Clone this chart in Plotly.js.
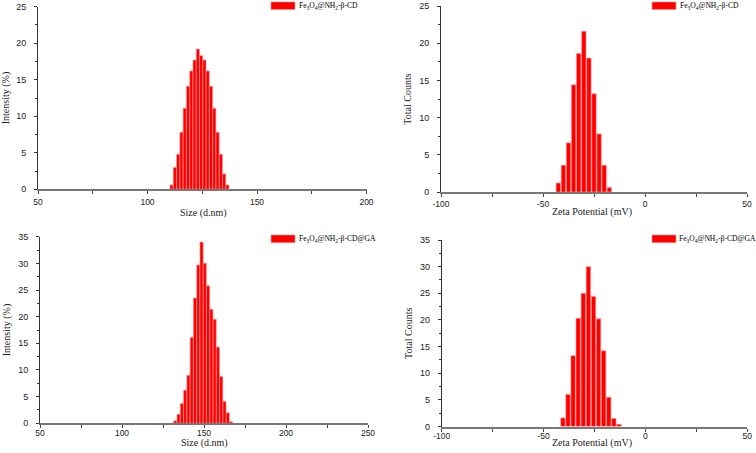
<!DOCTYPE html>
<html>
<head>
<meta charset="utf-8">
<script src="https://cdn.plot.ly/plotly-3.0.1.min.js"></script>
<style>html,body{margin:0;padding:0;background:#fff;}#chart{width:756px;height:453px;}</style>
</head>
<body>
<div id="chart"></div>
<script>
// ---- data ----
const sizeBinsCD = [111, 112.5, 114, 115.5, 117, 118.5, 120, 121.5, 123, 124.5, 126, 127.5, 129, 130.5, 132, 133.5, 135, 136.5];
const intensityCD = [0.6, 3.0, 4.8, 7.8, 11.1, 14.1, 16.2, 17.7, 19.2, 18.3, 17.7, 16.2, 14.1, 11.1, 7.8, 4.8, 2.1, 0.6];

const zetaBinsCD = [-42.5, -40, -37.5, -35, -32.5, -30, -27.5, -25, -22.5, -20, -17.5];
const countsCD = [1.2, 3.6, 6.6, 14.4, 18.6, 21.6, 18.0, 13.2, 7.8, 3.6, 0.6];

const sizeBinsGA = [132.5, 134.5, 136.5, 138.5, 140.5, 142.5, 144.5, 146.5, 148.5, 150.5, 152.5, 154.5, 156.5, 158.5, 160.5, 162.5, 164.5, 166.5];
const intensityGA = [0.5, 1.7, 3.7, 6.2, 9.0, 16.1, 23.5, 29.7, 34.0, 30.0, 25.8, 21.4, 19.5, 14.3, 8.8, 4.1, 2.0, 0.3];

const zetaBinsGA = [-40.5, -38, -35.5, -33, -30.5, -28, -25.5, -23, -20.5, -18, -15.5, -13];
const countsGA = [1.6, 6.0, 13.3, 20.3, 25.0, 30.0, 24.4, 20.2, 14.2, 5.5, 1.5, 0.4];

const zetaTickVals = [-100, -50, 0, 50];
const zetaTickText = ['-100', '-50', '0', '50'];

const legendCD = 'Fe<sub>3</sub>O<sub>4</sub>@NH<sub>2</sub>-β-CD';
const legendGA = 'Fe<sub>3</sub>O<sub>4</sub>@NH<sub>2</sub>-β-CD@GA';
const sizeTitle = 'Size (d.nm)';
const zetaTitle = 'Zeta Potential (mV)';
const intensityTitle = 'Intensity (%)';
const countsTitle = 'Total Counts';

// ---- layout helpers ----
const W = 756, H = 453;
const px = x => x / W;
const py = y => 1 - y / H;

const RED = '#ff0000';
const EDGE = 'rgba(255,150,150,1)';

function bar(x, y, xa, ya, w, name) {
  return {
    type: 'bar', x: x, y: y, xaxis: xa, yaxis: ya, width: w, name: name,
    marker: {color: RED, line: {color: EDGE, width: 0.6}},
    showlegend: false, hoverinfo: 'x+y'
  };
}

const data = [
  bar(sizeBinsCD, intensityCD, 'x', 'y', 1.45, 'CD size'),
  bar(zetaBinsCD, countsCD, 'x2', 'y2', 2.15, 'CD zeta'),
  bar(sizeBinsGA, intensityGA, 'x3', 'y3', 1.92, 'GA size'),
  bar(zetaBinsGA, countsGA, 'x4', 'y4', 2.15, 'GA zeta')
];

const tickFont = {family: 'Liberation Sans, Arial, sans-serif', size: 9, color: '#222'};
const xTickFont = {family: 'Liberation Sans, Arial, sans-serif', size: 8.5, color: '#222'};
const titleFont = {family: 'Liberation Serif, Times New Roman, serif', size: 10, color: '#222'};

function xax(domain, range, anchor, zeta, standoff) {
  const a = {
    domain: domain, range: range, anchor: anchor,
    showline: true, linewidth: 2, linecolor: '#787878',
    showgrid: false, zeroline: false,
    ticks: 'outside', ticklen: 3, tickwidth: 1, tickcolor: '#444',
    tick0: 0, dtick: 50,
    minor: {ticks: 'outside', dtick: 25, tick0: 0, ticklen: 3, tickwidth: 1, tickcolor: '#444'},
    tickfont: xTickFont, ticklabelstandoff: standoff,
    fixedrange: true
  };
  if (zeta) { a.tickmode = 'array'; a.tickvals = zetaTickVals; a.ticktext = zetaTickText; }
  return a;
}
function yax(domain, range, anchor, title) {
  return {
    domain: domain, range: range, anchor: anchor,
    showline: true, linewidth: 1, linecolor: '#333',
    showgrid: false, zeroline: false,
    ticks: 'outside', ticklen: 3, tickwidth: 1, tickcolor: '#333',
    tick0: 0, dtick: 5,
    minor: {ticks: 'outside', dtick: 2.5, tick0: 0, ticklen: 2, tickwidth: 1, tickcolor: '#333'},
    tickfont: tickFont, ticklabelstandoff: 6,
    title: {text: title, font: titleFont},
    fixedrange: true
  };
}

function legendShape(x0, x1, y0, y1) {
  return {type: 'rect', xref: 'paper', yref: 'paper',
    x0: px(x0), x1: px(x1), y0: py(y1), y1: py(y0),
    fillcolor: RED, line: {color: EDGE, width: 0.6}};
}
function legendText(x, y, text) {
  return {xref: 'paper', yref: 'paper', x: px(x), y: py(y), xanchor: 'left', yanchor: 'middle',
    text: text, showarrow: false,
    font: {family: 'Liberation Serif, Times New Roman, serif', size: 7.6, color: '#000'}};
}
function xTitle(x, y, text) {
  return {xref: 'paper', yref: 'paper', x: px(x), y: py(y), xanchor: 'center', yanchor: 'middle',
    text: text, showarrow: false, font: titleFont};
}

const layout = {
  width: W, height: H,
  margin: {l: 0, r: 0, t: 0, b: 0},
  paper_bgcolor: '#fff', plot_bgcolor: '#fff',
  showlegend: false,
  xaxis: xax([px(38), px(366.5)], [50, 200], 'y', false, 0),
  yaxis: yax([py(189.3), py(6.7)], [0, 25], 'x', intensityTitle),
  xaxis2: xax([px(441), px(747)], [-100, 50], 'y2', true, 0),
  yaxis2: yax([py(192), py(6)], [0, 25], 'x2', countsTitle),
  xaxis3: xax([px(40), px(368)], [50, 250], 'y3', false, -3),
  yaxis3: yax([py(423.3), py(236.7)], [0, 35], 'x3', intensityTitle),
  xaxis4: xax([px(441.7), px(747.3)], [-100, 50], 'y4', true, -3),
  yaxis4: yax([py(426.5), py(240)], [0, 35], 'x4', countsTitle),
  shapes: [
    legendShape(271, 295, 2, 9.5),
    legendShape(652, 676, 2, 9.5),
    legendShape(271, 295, 235, 242.7),
    legendShape(652, 676, 235, 242.7)
  ],
  annotations: [
    legendText(297, 6, legendCD),
    legendText(677.5, 6, legendCD),
    legendText(296.5, 239, legendGA),
    legendText(677, 239, legendGA),
    xTitle(203, 213, sizeTitle),
    xTitle(592, 212, zetaTitle),
    xTitle(204, 443, sizeTitle),
    xTitle(592, 443, zetaTitle)
  ]
};

Plotly.newPlot('chart', data, layout, {displayModeBar: false, staticPlot: true});
</script>
</body>
</html>
